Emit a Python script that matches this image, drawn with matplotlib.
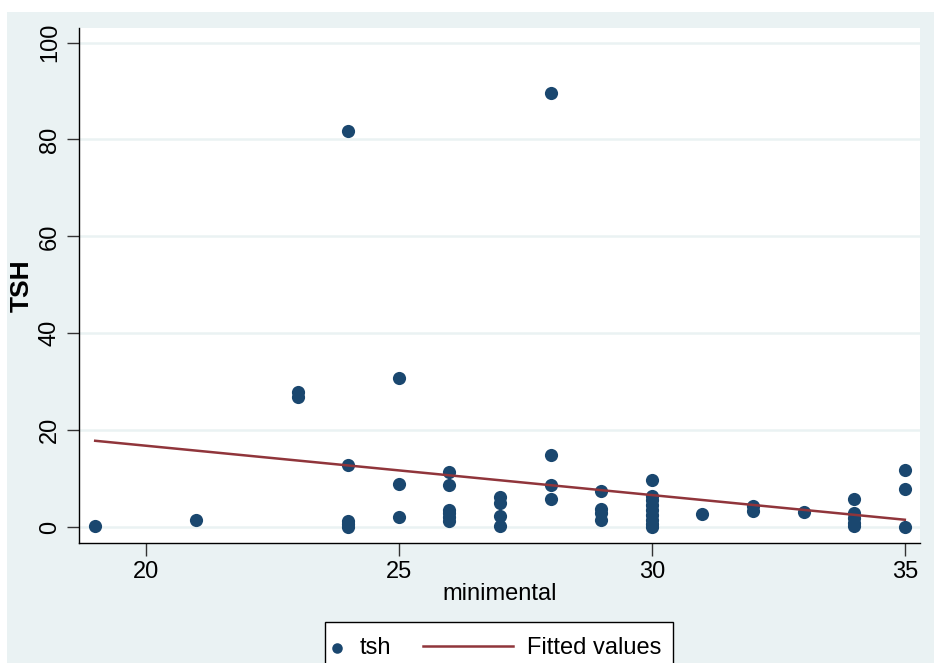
import matplotlib.pyplot as plt
from matplotlib.patches import Rectangle
import numpy as np

plt.rcParams['font.family'] = ['Liberation Sans', 'DejaVu Sans']

# minimental score and tsh values
minimental = [19, 21,
              23, 23,
              24, 24, 24, 24, 24,
              25, 25, 25,
              26, 26, 26, 26, 26, 26,
              27, 27, 27, 27,
              28, 28, 28, 28,
              29, 29, 29, 29,
              30, 30, 30, 30, 30, 30, 30, 30, 30,
              31,
              32, 32,
              33,
              34, 34, 34, 34, 34,
              35, 35, 35]
tsh = [0.3, 1.5,
       27.8, 26.9,
       81.7, 12.8, 1.2, 0.6, 0.0,
       30.8, 8.8, 2.1,
       11.3, 8.7, 3.5, 2.8, 2.0, 1.3,
       6.2, 5.0, 2.3, 0.3,
       89.5, 14.8, 8.7, 5.8,
       7.5, 3.8, 2.8, 1.5,
       9.7, 6.5, 5.5, 4.5, 3.5, 2.5, 1.5, 0.7, 0.1,
       2.7,
       4.4, 3.3,
       3.0,
       5.8, 2.8, 1.8, 0.8, 0.2,
       11.8, 7.8, 0.1]

# fitted values (linear fit) at the ends of the range
fit_x = [19, 35]
fit_y = [17.8, 1.5]

navy = '#1a476f'
maroon = '#90353b'
bg = '#eaf2f3'
W, H = 934, 663

fig = plt.figure(figsize=(9.34, 6.63), dpi=100)
fig.patch.set_facecolor('white')
fig.patches.append(Rectangle((7 / W, 0), 1, 1 - 12 / H, transform=fig.transFigure,
                             facecolor=bg, edgecolor='none', zorder=-10))

ax = fig.add_axes([79 / W, 120 / H, (920 - 79) / W, (543 - 28) / H])
ax.set_facecolor('white')

pts = ax.scatter(minimental, tsh, s=90, color=navy, zorder=3, label='tsh', linewidths=0)
fit_line, = ax.plot(fit_x, fit_y, color=maroon, lw=1.8, zorder=4, label='Fitted values')

ax.set_xlim(18.68, 35.3)
ax.set_ylim(-3.3, 103)
ax.set_xticks([20, 25, 30, 35])
ax.set_yticks([0, 20, 40, 60, 80, 100])
ax.grid(axis='y', color=bg, lw=1.8, zorder=0)
ax.set_axisbelow(True)

for s in ['top', 'right']:
    ax.spines[s].set_visible(False)
for s in ['left', 'bottom']:
    ax.spines[s].set_color('black')
    ax.spines[s].set_linewidth(1.0)

ax.tick_params(axis='both', direction='out', length=9, width=1, color='#333333',
               labelsize=17, pad=4)
for lab in ax.get_yticklabels():
    lab.set_rotation(90)
    lab.set_va('center')

ax.set_xlabel('minimental', fontsize=17, labelpad=0)
ax.set_ylabel('TSH', fontsize=19, fontweight='bold', labelpad=4)

# legend: frame box plus two frameless legends (different handle widths)
fig.patches.append(Rectangle((325 / W, -0.02), 348 / W, (H - 622) / H + 0.02,
                             transform=fig.transFigure, facecolor='white',
                             edgecolor='black', lw=1.0, zorder=5))
leg1 = fig.legend([pts], ['tsh'], loc='center left', bbox_to_anchor=(325 / W, 15 / H),
                  fontsize=17, frameon=False, handlelength=1.0, handletextpad=0.45,
                  borderpad=0, borderaxespad=0, markerscale=0.8)
leg2 = fig.legend([fit_line], ['Fitted values'], loc='center left',
                  bbox_to_anchor=(423 / W, 15 / H), fontsize=17, frameon=False,
                  handlelength=3.8, handletextpad=0.6, borderpad=0, borderaxespad=0)
leg1.set_zorder(6)
leg2.set_zorder(6)

fig.savefig('out.png', dpi=100, facecolor=fig.get_facecolor())
